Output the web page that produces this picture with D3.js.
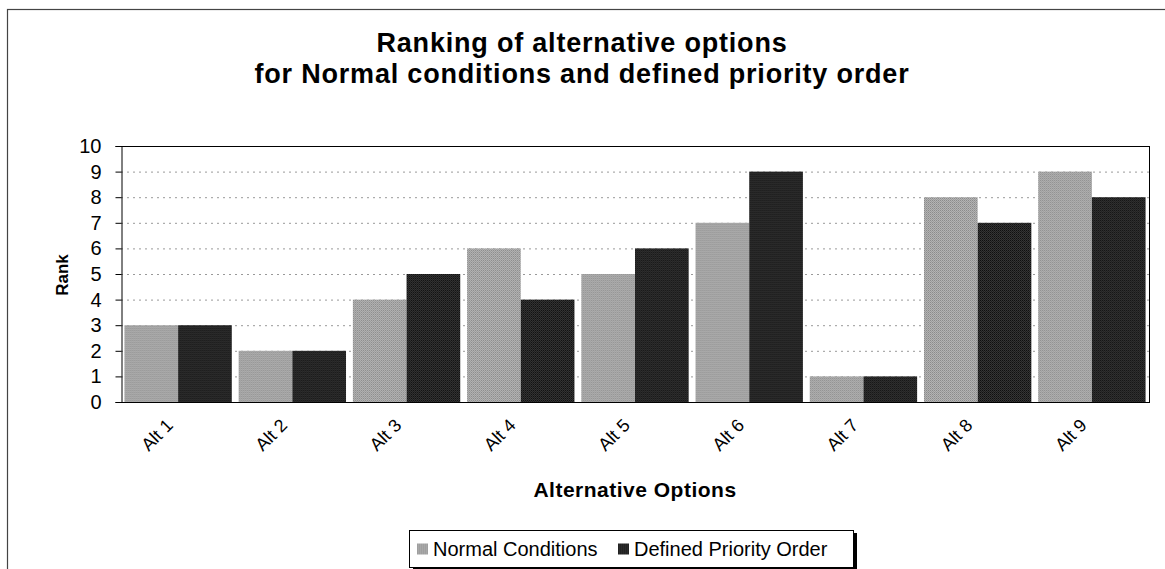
<!DOCTYPE html>
<html>
<head>
<meta charset="utf-8">
<script src="https://cdn.jsdelivr.net/npm/d3@7"></script>
<style>
  html, body { margin: 0; padding: 0; background: #fff; }
  svg { display: block; font-family: Arial, "Liberation Sans", sans-serif; }
</style>
</head>
<body>
<svg id="chart" width="1165" height="569"></svg>
<script>
const categories = ["Alt 1", "Alt 2", "Alt 3", "Alt 4", "Alt 5", "Alt 6", "Alt 7", "Alt 8", "Alt 9"];
const seriesNames = ["Normal Conditions", "Defined Priority Order"];
const normalConditions = [3, 2, 4, 6, 5, 7, 1, 8, 9];
const definedPriorityOrder = [3, 2, 5, 4, 6, 9, 1, 7, 8];
const yTicks = [0, 1, 2, 3, 4, 5, 6, 7, 8, 9, 10];
const titleLines = ["Ranking of alternative options", "for Normal conditions and defined priority order"];
const xTitle = "Alternative Options";
const yTitle = "Rank";

const seriesValues = [normalConditions, definedPriorityOrder];

const svg = d3.select("#chart");
const L = 121, R = 1149, T = 146, B = 402;

// outer chart frame
svg.append("rect").attr("x", 7.5).attr("y", 9.5).attr("width", 1200).attr("height", 600)
  .attr("fill", "none").attr("stroke", "#444").attr("stroke-width", 1.2);

// patterns to mimic dithering
const defs = svg.append("defs");
function makePattern(id, base, dot1, dot2) {
  const p = defs.append("pattern").attr("id", id).attr("patternUnits", "userSpaceOnUse")
    .attr("width", 2).attr("height", 2);
  p.append("rect").attr("width", 2).attr("height", 2).attr("fill", base);
  p.append("rect").attr("x", 0).attr("y", 0).attr("width", 1).attr("height", 1).attr("fill", dot1);
  p.append("rect").attr("x", 1).attr("y", 1).attr("width", 1).attr("height", 1).attr("fill", dot2);
}
makePattern("pat0", "#b4b4b4", "#8a8a8a", "#9c9c9c");
makePattern("pat1", "#353535", "#0e0e0e", "#1e1e1e");
const fills = ["url(#pat0)", "url(#pat1)"];

const x = d3.scaleBand().domain(categories).range([L, R]).paddingInner(0.06).paddingOuter(0.03);
const xs = d3.scaleBand().domain(seriesNames).range([0, x.bandwidth()]).padding(0);
const y = d3.scaleLinear().domain([0, 10]).range([B, T]);

// gridlines
svg.append("g").selectAll("line").data(yTicks.filter(d => d > 0 && d < 10)).join("line")
  .attr("x1", L).attr("x2", R).attr("y1", d => y(d) + 0.5).attr("y2", d => y(d) + 0.5)
  .attr("stroke", "#999").attr("stroke-width", 1).attr("stroke-dasharray", "2,4");

// bars
const groups = svg.append("g").selectAll("g").data(categories).join("g")
  .attr("transform", d => `translate(${x(d)},0)`);
groups.selectAll("rect").data((c, i) => seriesNames.map((s, k) => ({ s, k, v: seriesValues[k][i] })))
  .join("rect")
  .attr("x", d => xs(d.s)).attr("width", xs.bandwidth())
  .attr("y", d => y(d.v)).attr("height", d => y(0) - y(d.v))
  .attr("fill", d => fills[d.k]);

// plot border top & right
svg.append("line").attr("x1", L).attr("x2", R + 0.5).attr("y1", T + 0.5).attr("y2", T + 0.5).attr("stroke", "#000");
svg.append("line").attr("x1", R + 0.5).attr("x2", R + 0.5).attr("y1", T).attr("y2", B).attr("stroke", "#000");

// y axis
const yAxis = svg.append("g").attr("transform", `translate(${L + 0.5},0)`)
  .call(d3.axisLeft(y).tickValues(yTicks).tickFormat(d3.format("d")).tickSize(6).tickPadding(14));
yAxis.select(".domain").attr("stroke", "#000");
yAxis.selectAll(".tick line").attr("stroke", "#000");
yAxis.selectAll("text").attr("font-size", 20).attr("fill", "#000").attr("font-family", "Arial, 'Liberation Sans', sans-serif");

// x axis
const xAxis = svg.append("g").attr("transform", `translate(0,${B + 0.5})`)
  .call(d3.axisBottom(x).tickSize(0).tickSizeOuter(0));
xAxis.select(".domain").attr("stroke", "#000").attr("d", `M${L},0H${R + 1}`);
xAxis.selectAll("text").attr("font-size", 18).attr("fill", "#000")
  .attr("font-family", "Arial, 'Liberation Sans', sans-serif")
  .attr("y", 0).attr("dy", 0)
  .attr("transform", "translate(-4,24) rotate(-45)")
  .style("text-anchor", "end");

// titles
const title = svg.append("text").attr("text-anchor", "middle").attr("font-weight", "bold")
  .attr("font-size", 27).attr("letter-spacing", 0.8).attr("fill", "#000");
title.selectAll("tspan").data(titleLines).join("tspan")
  .attr("x", 582).attr("y", (d, i) => 52 + i * 31).text(d => d);

svg.append("text").attr("x", (L + R) / 2).attr("y", 497).attr("text-anchor", "middle")
  .attr("font-weight", "bold").attr("font-size", 21).attr("letter-spacing", 0.5).attr("fill", "#000").text(xTitle);

svg.append("text").attr("transform", `translate(68,275) rotate(-90)`).attr("text-anchor", "middle")
  .attr("font-weight", "bold").attr("font-size", 17).attr("fill", "#000").text(yTitle);

// legend
const lx = 409, ly = 530, lw = 444, lh = 37;
const lg = svg.append("g");
lg.append("rect").attr("x", lx + 4).attr("y", ly + 3).attr("width", lw).attr("height", lh).attr("fill", "#000");
lg.append("rect").attr("x", lx + 0.5).attr("y", ly + 0.5).attr("width", lw).attr("height", lh)
  .attr("fill", "#fff").attr("stroke", "#000").attr("stroke-width", 1);
const items = [{ name: seriesNames[0], k: 0, x: lx + 8 }, { name: seriesNames[1], k: 1, x: lx + 209 }];
const li = lg.selectAll("g.item").data(items).join("g").attr("class", "item")
  .attr("transform", d => `translate(${d.x},${ly + lh / 2})`);
li.append("rect").attr("x", 0).attr("y", -5).attr("width", 11).attr("height", 11).attr("fill", d => fills[d.k]);
li.append("text").attr("x", 16).attr("y", 7).attr("font-size", 20).attr("fill", "#000").text(d => d.name);
</script>
</body>
</html>
